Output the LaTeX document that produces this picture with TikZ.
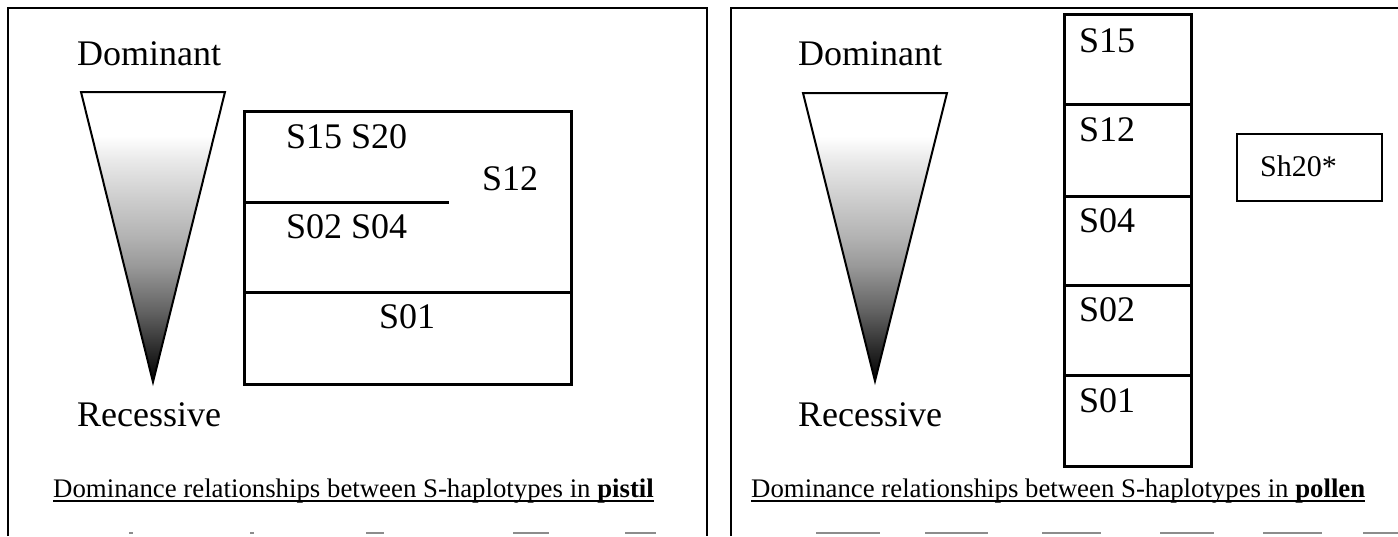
\documentclass[tikz,border=0pt]{standalone}
\usepackage{fontspec}
\setmainfont{Liberation Serif}
\usetikzlibrary{calc}

% dark tip fading up to white at the wide end
\pgfdeclareverticalshading{conefade}{100bp}{%
  color(0bp)=(black); color(25bp)=(black); color(30bp)=(black!85);
  color(37bp)=(black!62); color(45bp)=(black!40); color(50bp)=(black!30);
  color(57bp)=(black!19); color(63bp)=(black!9); color(67.5bp)=(white);
  color(100bp)=(white)}

\tikzset{
  panel/.style={line width=2pt, black},
  panelbase/.style={line width=2pt, black!45},
  hapbox/.style={line width=3pt, black},
  cone/.style={shading=conefade},
  coneedge/.style={line width=2pt, black, line join=miter},
  bigtext/.style={font=\fontsize{36}{40}\selectfont, inner sep=0pt, anchor=base west},
  labtext/.style={font=\fontsize{36}{40}\selectfont, inner sep=0pt, anchor=base west},
  smalltext/.style={font=\fontsize{30}{34}\selectfont, inner sep=0pt, anchor=base west},
  captext/.style={font=\fontsize{26.8}{30}\selectfont, inner sep=0pt, anchor=base west},
  capline/.style={line width=1.5pt, black}
}

\begin{document}
\begin{tikzpicture}[x=1pt, y=-1pt]
\useasboundingbox (0,0) rectangle (1398,536);
\fill[white] (0,0) rectangle (1398,536);

% ---------- pistil panel ----------
\draw[panel] (8,536) -- (8,8) -- (707,8) -- (707,536);
% worn-out lower edge
\foreach \xa/\xb in {129/133, 250/254, 366/384, 513/549, 625/656}
  \draw[panelbase] (\xa,533) -- (\xb,533);

\node[bigtext] (domL) at (77,65) {Dominant};
\node[bigtext] (recL) at (77,426) {Recessive};
\shade[cone] (81,92) -- (225,92) -- (153,382) -- cycle;
\draw[coneedge] (81,92) -- (225,92) -- (153,382) -- cycle;

\draw[hapbox] (244,111) rectangle (571,384);
\draw[hapbox] (244,292) -- (571,292);
\draw[hapbox] (244,202) -- (449,202);
\node[labtext] (s1520) at (286,148) {S15 S20};
\node[labtext] (s12L)  at (482,190) {S12};
\node[labtext] (s0204) at (286,238) {S02 S04};
\node[labtext] (s01L)  at (379,328) {S01};

\node[captext] (capL) at (53,497) {Dominance relationships between S-haplotypes in \textbf{pistil}};
\draw[capline] ([yshift=-4pt]capL.base west) -- ([yshift=-4pt]capL.base east);

% ---------- pollen panel ----------
\draw[panel] (731,536) -- (731,8) -- (1400,8);
\foreach \xa/\xb in {816/880, 925/988, 1042/1101, 1160/1214, 1263/1322, 1363/1400}
  \draw[panelbase] (\xa,533) -- (\xb,533);

\node[bigtext] (domR) at (798,65) {Dominant};
\node[bigtext] (recR) at (798,426) {Recessive};
\shade[cone] (803,93) -- (947,93) -- (875,381) -- cycle;
\draw[coneedge] (803,93) -- (947,93) -- (875,381) -- cycle;

\draw[hapbox] (1064,14) rectangle (1191,466);
\foreach \yy in {104,196,285,375} \draw[hapbox] (1064,\yy) -- (1191,\yy);
\node[labtext] (s15) at (1079,52)  {S15};
\node[labtext] (s12) at (1079,141) {S12};
\node[labtext] (s04) at (1079,232) {S04};
\node[labtext] (s02) at (1079,321) {S02};
\node[labtext] (s01) at (1079,412) {S01};

\draw[line width=2.5pt] (1237,134) rectangle (1382,201);
\node[smalltext] (sh20) at (1260,176) {Sh20*};

\node[captext] (capR) at (751,497) {Dominance relationships between S-haplotypes in \textbf{pollen}};
\draw[capline] ([yshift=-4pt]capR.base west) -- ([yshift=-4pt]capR.base east);
\end{tikzpicture}
\end{document}
